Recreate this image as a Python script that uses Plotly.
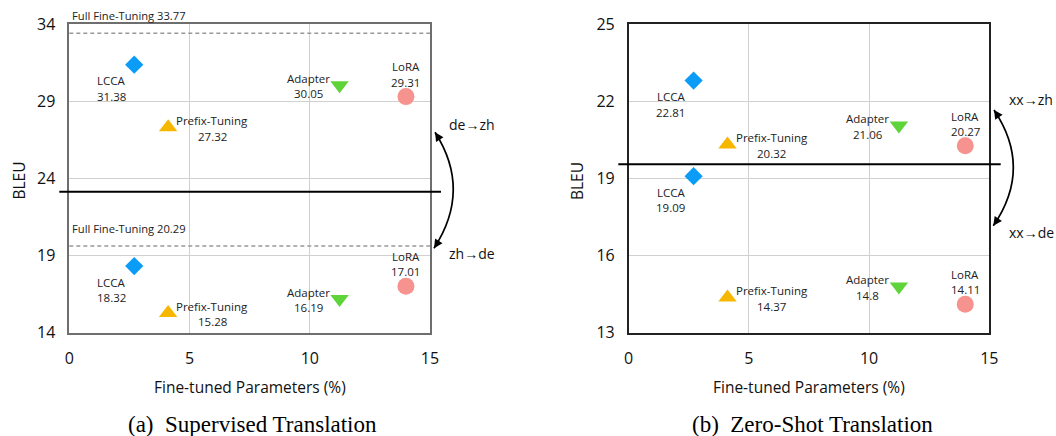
import plotly.graph_objects as go

W, H = 1056, 436

methods = ["LCCA", "Prefix-Tuning", "Adapter", "LoRA"]
params = [2.7, 4.11, 11.24, 14.0]
sup_de_zh = [31.38, 27.32, 30.05, 29.31]
sup_zh_de = [18.32, 15.28, 16.19, 17.01]
zs_xx_zh = [22.81, 20.32, 21.06, 20.27]
zs_xx_de = [19.09, 14.37, 14.8, 14.11]

full_ft_labels = [33.77, 20.29]
full_ft_line_y = [33.42, 19.62]

divider_left = 23.14
divider_right = 19.55

x_ticks = [0, 5, 10, 15]
y_ticks_left = [14, 19, 24, 29, 34]
y_ticks_right = [13, 16, 19, 22, 25]

symbols = ["diamond", "triangle-up", "triangle-down", "circle"]
colors = ["#0a9cf6", "#f6b700", "#5ed43a", "#f7938e"]
sizes = [14, 16, 16, 17]
# label block offsets (px) relative to marker
lab_dx = [-23, 44, -31, 0]
lab_dy = [-24, -1, -1, 22]

FONT = "Open Sans"

fig = go.Figure()
panels = [("x", "y", [sup_de_zh, sup_zh_de]), ("x2", "y2", [zs_xx_zh, zs_xx_de])]
annos = []
for xr, yr, groups in panels:
    for vals in groups:
        for i, m in enumerate(methods):
            fig.add_trace(go.Scatter(
                x=[params[i]], y=[vals[i]], xaxis=xr, yaxis=yr, mode="markers",
                marker=dict(symbol=symbols[i], color=colors[i], size=sizes[i], line=dict(width=0)),
                showlegend=False, cliponaxis=False, hoverinfo="skip"))
            for txt, off in [(m, 7.7), (f"{vals[i]}", -7.7)]:
                annos.append(dict(x=params[i], y=vals[i], xref=xr, yref=yr, text=txt,
                                  showarrow=False, xshift=lab_dx[i], yshift=lab_dy[i] + off,
                                  xanchor="center", yanchor="middle",
                                  font=dict(family=FONT, size=11.5, color="#222")))

shapes = []
# Full fine-tuning dashed lines (left panel)
for lab, ly in zip(full_ft_labels, full_ft_line_y):
    shapes.append(dict(type="line", xref="x domain", yref="y", x0=0, x1=1, y0=ly, y1=ly,
                       line=dict(color="#999999", width=1.5, dash="4px,3px")))
    annos.append(dict(x=0, y=ly, xref="x", yref="y", text=f"Full Fine-Tuning {lab}",
                      showarrow=False, xanchor="left", yanchor="middle", xshift=1, yshift=18,
                      font=dict(family=FONT, size=11.2, color="#222")))

# dividers
shapes.append(dict(type="line", xref="paper", yref="y", x0=59.3 / W, x1=441 / W,
                   y0=divider_left, y1=divider_left, line=dict(color="black", width=2)))
shapes.append(dict(type="line", xref="paper", yref="y2", x0=618.3 / W, x1=1000.7 / W,
                   y0=divider_right, y1=divider_right, line=dict(color="black", width=2)))


def P(px, py):
    return px / W, 1 - py / H


def curved_arrow(p0, c, p1):
    x0, y0 = P(*p0)
    cx, cy = P(*c)
    x1, y1 = P(*p1)
    shapes.append(dict(type="path", xref="paper", yref="paper",
                       path=f"M {x0},{y0} Q {cx},{cy} {x1},{y1}",
                       line=dict(color="black", width=1.7)))
    for (tx, ty) in [p0, p1]:
        dx, dy = c[0] - tx, c[1] - ty
        n = (dx * dx + dy * dy) ** 0.5
        ax, ay = dx / n * 8, dy / n * 8
        hx, hy = P(tx, ty)
        annos.append(dict(x=hx, y=hy, xref="paper", yref="paper", text="", showarrow=True,
                          ax=ax, ay=ay, arrowhead=2, arrowsize=1.1, arrowwidth=1.6,
                          arrowcolor="black", standoff=0))


curved_arrow((435, 132.3), (472, 190), (434, 248.3))
curved_arrow((994, 110), (1033, 168), (993.3, 225.7))

for txt, px, py in [("de→zh", 472, 124), ("zh→de", 472, 254),
                    ("xx→zh", 1031, 100), ("xx→de", 1031, 232)]:
    x, y = P(px, py)
    annos.append(dict(x=x, y=y, xref="paper", yref="paper", text=txt, showarrow=False,
                      xanchor="center", yanchor="middle",
                      font=dict(family=FONT, size=14, color="#111")))

# axis titles
for txt, px, py, ang in [("Fine-tuned Parameters (%)", 249.7, 386.7, 0),
                         ("Fine-tuned Parameters (%)", 809, 386.7, 0),
                         ("BLEU", 18.5, 181, -90), ("BLEU", 577, 181, -90)]:
    x, y = P(px, py)
    annos.append(dict(x=x, y=y, xref="paper", yref="paper", text=txt, showarrow=False,
                      textangle=ang, xanchor="center", yanchor="middle",
                      font=dict(family=FONT, size=15.5, color="#111")))

for txt, px, py in [("(a)  Supervised Translation", 252, 424),
                    ("(b)  Zero-Shot Translation", 812.5, 424)]:
    x, y = P(px, py)
    annos.append(dict(x=x, y=y, xref="paper", yref="paper", text=txt, showarrow=False,
                      xanchor="center", yanchor="middle",
                      font=dict(family="Liberation Serif", size=23, color="black")))

ydom = [1 - 332.7 / H, 1 - 24.3 / H]


def xax(dom, linecolor, anchor):
    return dict(domain=dom, range=[0, 15], tickvals=x_ticks, showgrid=True, gridcolor="#d0d0d0",
                gridwidth=1, zeroline=False, showline=True, mirror=True, linecolor=linecolor,
                linewidth=1.5, ticks="outside", ticklen=10, tickcolor="rgba(0,0,0,0)",
                automargin=False, anchor=anchor,
                tickfont=dict(family=FONT, size=16, color="#111"))


def yax(rng, tv, linecolor, anchor):
    return dict(domain=ydom, range=rng, tickvals=tv, showgrid=True, gridcolor="#d0d0d0",
                gridwidth=1, zeroline=False, showline=True, mirror=True, linecolor=linecolor,
                linewidth=1.5, ticks="outside", ticklen=9, tickcolor="rgba(0,0,0,0)",
                automargin=False, anchor=anchor,
                tickfont=dict(family=FONT, size=16, color="#111"))


fig.update_layout(
    template="none",
    width=W, height=H, margin=dict(l=0, r=0, t=0, b=0, pad=0),
    paper_bgcolor="white", plot_bgcolor="white",
    xaxis=xax([69.3 / W, 430 / W], "#6e6e6e", "y"),
    yaxis=yax([14, 34], y_ticks_left, "#6e6e6e", "x"),
    xaxis2=xax([628.7 / W, 989.3 / W], "#222222", "y2"),
    yaxis2=yax([13, 25], y_ticks_right, "#222222", "x2"),
    shapes=shapes, annotations=annos,
)

fig.write_html("out.html", config={"displayModeBar": False},
               post_script="document.body.style.margin='0';document.body.style.overflow='hidden';")
